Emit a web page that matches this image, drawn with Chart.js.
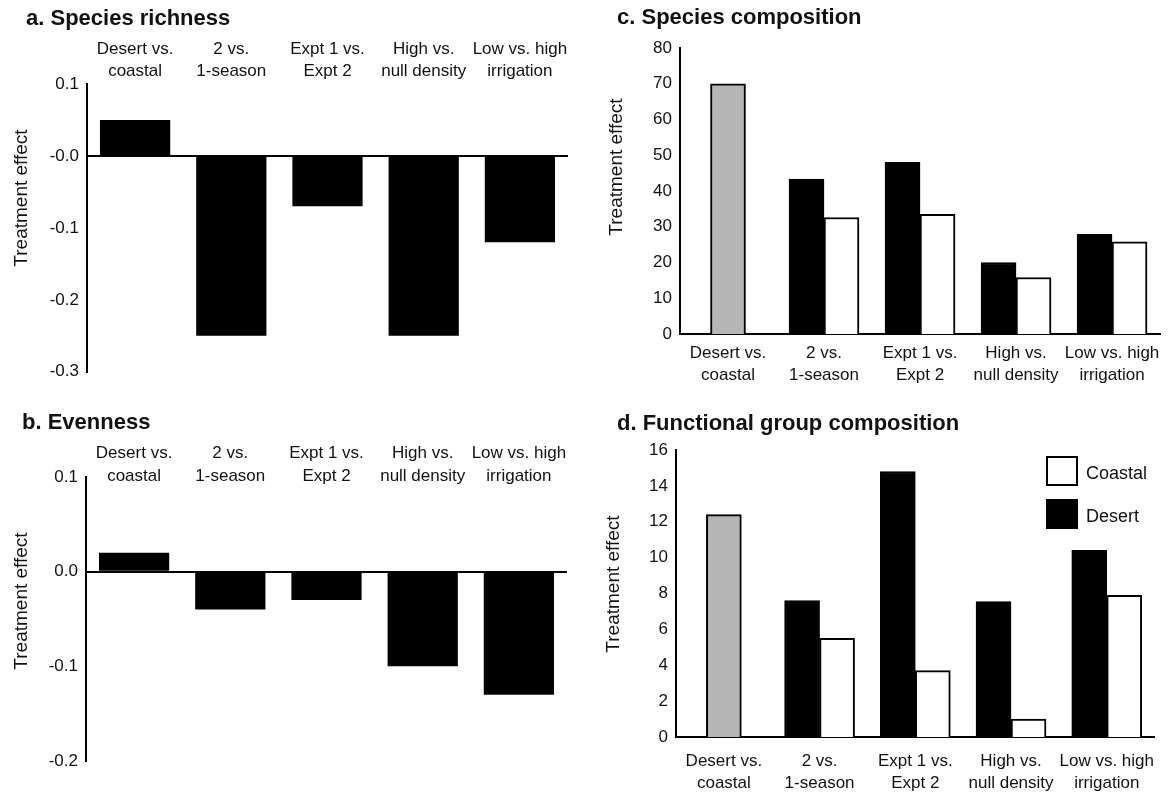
<!DOCTYPE html>
<html>
<head>
<meta charset="utf-8">
<script src="https://cdn.jsdelivr.net/npm/chart.js@4.4.1/dist/chart.umd.min.js"></script>
<style>
  body { margin: 0; background: #fff; font-family: "Liberation Sans", Arial, sans-serif; color: #111; }
  #wrap { position: relative; width: 1168px; height: 796px; overflow: hidden; }
  .box { position: absolute; }
  .title { position: absolute; font-weight: bold; font-size: 22px; line-height: 22px; white-space: nowrap; }
  .ytitle { position: absolute; font-size: 19px; line-height: 19px; white-space: nowrap; transform: translate(-50%, -50%) rotate(-90deg); }
  .leg { position: absolute; font-size: 18px; line-height: 18px; }
  .swatch { position: absolute; width: 28px; height: 26px; border: 2px solid #000; }
</style>
</head>
<body>
<div id="wrap">
  <div class="box" style="left:0;top:0;width:584px;height:390px"><canvas id="chartA"></canvas></div>
  <div class="box" style="left:0;top:390px;width:584px;height:406px"><canvas id="chartB"></canvas></div>
  <div class="box" style="left:584px;top:0;width:584px;height:390px"><canvas id="chartC"></canvas></div>
  <div class="box" style="left:584px;top:390px;width:584px;height:406px"><canvas id="chartD"></canvas></div>

  <div class="title" style="left:26px;top:7px">a. Species richness</div>
  <div class="title" style="left:22px;top:411px">b. Evenness</div>
  <div class="title" style="left:617px;top:6px">c. Species composition</div>
  <div class="title" style="left:617px;top:412px">d. Functional group composition</div>

  <div class="ytitle" style="left:20px;top:198px">Treatment effect</div>
  <div class="ytitle" style="left:20px;top:601px">Treatment effect</div>
  <div class="ytitle" style="left:615px;top:167px">Treatment effect</div>
  <div class="ytitle" style="left:612px;top:584px">Treatment effect</div>

  <div class="swatch" style="left:1046px;top:456px;background:#fff"></div>
  <div class="leg" style="left:1086px;top:464px">Coastal</div>
  <div class="swatch" style="left:1046px;top:499px;background:#000"></div>
  <div class="leg" style="left:1086px;top:507px">Desert</div>
</div>
<script>
const categories = [
  ["Desert vs.", "coastal"],
  ["2 vs.", "1-season"],
  ["Expt 1 vs.", "Expt 2"],
  ["High vs.", "null density"],
  ["Low vs. high", "irrigation"],
];

// a. species richness
const richness = [0.05, -0.25, -0.07, -0.25, -0.12];
const richnessTicks = [0.1, 0, -0.1, -0.2, -0.3];
const richnessTickLabels = ["0.1", "-0.0", "-0.1", "-0.2", "-0.3"];

// b. evenness
const evenness = [0.02, -0.04, -0.03, -0.10, -0.13];
const evennessTicks = [0.1, 0, -0.1, -0.2];
const evennessTickLabels = ["0.1", "0.0", "-0.1", "-0.2"];

// c. species composition (first category is a single pooled bar)
const compDesert = [70, 43.3, 48.0, 20.0, 27.9];
const compCoastal = [null, 32.6, 33.5, 15.8, 25.8];
const compTicks = [0, 10, 20, 30, 40, 50, 60, 70, 80];

// d. functional group composition
const funcDesert = [12.4, 7.6, 14.8, 7.55, 10.4];
const funcCoastal = [null, 5.5, 3.7, 1.0, 7.9];
const funcTicks = [0, 2, 4, 6, 8, 10, 12, 14, 16];

const FONT = "'Liberation Sans', Arial, sans-serif";
const TEXT = "#111";
const GRAY = "#b5b5b5";

Chart.defaults.animation = false;
Chart.defaults.font.family = FONT;
Chart.defaults.color = TEXT;

function labelFor(values, labels) {
  return function (value) {
    const i = values.findIndex((v) => Math.abs(v - value) < 1e-9);
    return i >= 0 ? labels[i] : "";
  };
}

// bars hanging from a zero line, category labels sitting above the plot
function effectChart(id, values, ticks, tickLabels, opts) {
  return new Chart(document.getElementById(id), {
    type: "bar",
    data: {
      labels: categories,
      datasets: [
        {
          data: values,
          backgroundColor: "#000",
          borderWidth: 0,
          categoryPercentage: 1,
          barPercentage: 0.73,
        },
      ],
    },
    options: {
      responsive: true,
      maintainAspectRatio: false,
      layout: { padding: { left: 0, top: opts.padTop, right: opts.padRight, bottom: opts.padBottom } },
      plugins: { legend: { display: false }, tooltip: { enabled: false } },
      scales: {
        x: {
          position: { y: ticks[0] },
          grid: { display: false, drawTicks: false },
          border: { display: false },
          ticks: {
            font: { size: 17, lineHeight: opts.lineHeight },
            color: TEXT,
            padding: opts.labelPad,
            maxRotation: 0,
            autoSkip: false,
          },
          afterFit: (s) => { s.height = 0; },
        },
        y: {
          min: ticks[ticks.length - 1],
          max: ticks[0],
          afterBuildTicks: (s) => { s.ticks = ticks.map((v) => ({ value: v })); },
          grid: {
            drawTicks: false,
            color: (c) => (c.tick && c.tick.value === 0 ? "#000" : "rgba(0,0,0,0)"),
            lineWidth: 2,
          },
          border: { display: true, color: "#000", width: 2 },
          ticks: {
            font: { size: 17 },
            color: TEXT,
            padding: 8,
            callback: labelFor(ticks, tickLabels),
          },
          afterFit: (s) => { s.width = opts.axisWidth; },
        },
      },
    },
  });
}

function pairedChart(id, desert, coastal, ticks, opts) {
  return new Chart(document.getElementById(id), {
    type: "bar",
    data: {
      labels: categories,
      datasets: [
        {
          label: "Desert",
          data: desert,
          backgroundColor: (c) => (c.dataIndex === 0 ? GRAY : "#000"),
          borderColor: "#000",
          borderWidth: 2,
          barThickness: 35,
          skipNull: true,
        },
        {
          label: "Coastal",
          data: coastal,
          backgroundColor: "#fff",
          borderColor: "#000",
          borderWidth: 2,
          barThickness: 35,
          skipNull: true,
        },
      ],
    },
    options: {
      responsive: true,
      maintainAspectRatio: false,
      layout: { padding: { left: 0, top: opts.padTop, right: opts.padRight, bottom: 0 } },
      plugins: { legend: { display: false }, tooltip: { enabled: false } },
      scales: {
        x: {
          grid: { display: false, drawTicks: false },
          border: { display: true, color: "#000", width: 2 },
          ticks: {
            font: { size: 17, lineHeight: 1.3 },
            color: TEXT,
            padding: opts.labelPad,
            maxRotation: 0,
            autoSkip: false,
          },
          afterFit: (s) => { s.height = opts.axisHeight; },
        },
        y: {
          min: ticks[0],
          max: ticks[ticks.length - 1],
          afterBuildTicks: (s) => { s.ticks = ticks.map((v) => ({ value: v })); },
          grid: { display: false, drawTicks: false },
          border: { display: true, color: "#000", width: 2 },
          ticks: { font: { size: 17 }, color: TEXT, padding: 8 },
          afterFit: (s) => { s.width = opts.axisWidth; },
        },
      },
    },
  });
}

effectChart("chartA", richness, richnessTicks, richnessTickLabels, {
  padTop: 84, axisWidth: 87, padRight: 16, padBottom: 18, labelPad: -45, lineHeight: 1.25,
});
effectChart("chartB", evenness, evennessTicks, evennessTickLabels, {
  padTop: 87, axisWidth: 86, padRight: 17, padBottom: 35, labelPad: -35, lineHeight: 1.35,
});
pairedChart("chartC", compDesert, compCoastal, compTicks, {
  padTop: 48, padRight: 7, axisHeight: 56, axisWidth: 96, labelPad: 8,
});
pairedChart("chartD", funcDesert, funcCoastal, funcTicks, {
  padTop: 60, padRight: 10, axisHeight: 59, axisWidth: 92, labelPad: 13,
});
</script>
</body>
</html>
